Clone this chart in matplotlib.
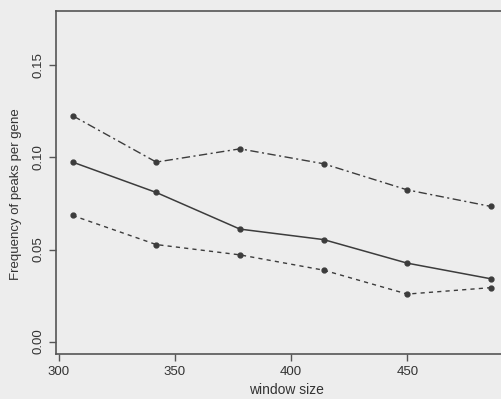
import matplotlib
matplotlib.use('Agg')
import matplotlib.pyplot as plt

# window sizes and peak frequencies
window = [306, 342, 378, 414, 450, 486]
upper = [0.1227, 0.0975, 0.1047, 0.0966, 0.0824, 0.0734]
middle = [0.0975, 0.0810, 0.0611, 0.0554, 0.0426, 0.0341]
lower = [0.0685, 0.0527, 0.0471, 0.0388, 0.0258, 0.0293]

xticks = [300, 350, 400, 450]
yticks = [0.00, 0.05, 0.10, 0.15]

bg = '#ededed'
ink = '#3c3c3c'

plt.rcParams['font.family'] = ['Liberation Sans', 'DejaVu Sans']

fig = plt.figure(figsize=(5.01, 3.99), dpi=100)
fig.patch.set_facecolor(bg)
ax = fig.add_axes([0.111, 0.113, 0.92, 0.86])
ax.set_facecolor(bg)

ax.plot(window, upper, color=ink, lw=1.0, ls=(0, (6, 2.5, 1.5, 2.5)),
        marker='o', ms=3.5, mfc=ink, mec=ink)
ax.plot(window, middle, color=ink, lw=1.1, ls='-',
        marker='o', ms=3.5, mfc=ink, mec=ink)
ax.plot(window, lower, color=ink, lw=1.0, ls=(0, (3, 3)),
        marker='o', ms=3.5, mfc=ink, mec=ink)

ax.set_xlim(298.7, 497)
ax.set_ylim(-0.0067, 0.1797)
ax.set_xticks(xticks)
ax.set_xticklabels([str(v) for v in xticks])
ax.set_yticks(yticks)
ax.set_yticklabels(['%.2f' % v for v in yticks], rotation=90, va='center')

for s in ['left', 'bottom', 'top']:
    ax.spines[s].set_color('#555555')
    ax.spines[s].set_linewidth(1.2)
ax.spines['right'].set_visible(False)

ax.tick_params(axis='both', colors='#555555', labelcolor='#333333',
               labelsize=9.5, length=5, width=1.0)
ax.tick_params(axis='y', pad=3)

ax.set_xlabel('window size', fontsize=10, color='#333333', labelpad=4)
ax.set_ylabel('Frequency of peaks per gene', fontsize=9.5, color='#333333')
ax.yaxis.set_label_coords(-0.074, 0.465)

fig.savefig('out.png', dpi=100, facecolor=bg)
